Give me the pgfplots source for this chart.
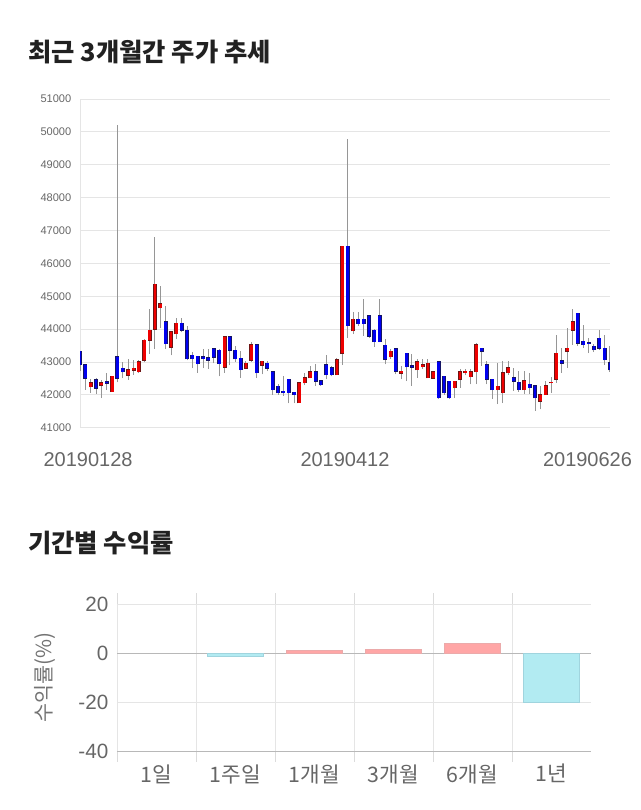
\documentclass[border=0pt]{standalone}
\usepackage{fontspec}
\setmainfont{Liberation Sans}
\newfontfamily\cjk{Noto Sans CJK KR}
\usepackage{pgfplots}
\pgfplotsset{compat=1.18}
\usepackage{pgfplotstable}
\definecolor{upc}{RGB}{238,0,0}
\definecolor{dnc}{RGB}{0,0,238}
\definecolor{updraw}{RGB}{110,20,20}
\definecolor{dndraw}{RGB}{20,20,100}
\definecolor{wick}{RGB}{150,150,150}
\definecolor{posfill}{RGB}{255,166,166}
\definecolor{posdraw}{RGB}{235,170,170}
\definecolor{negfill}{RGB}{178,235,242}
\definecolor{negdraw}{RGB}{160,212,222}
\definecolor{txt}{RGB}{102,102,102}

\pgfplotstableread{
x o h l c
0 43330 43330 42720 42920
1 42910 42910 42160 42510
2 42245 42480 42060 42360
3 42460 42520 42030 42210
4 42300 42440 41900 42360
5 42400 42650 42150 42350
6 42100 42560 42100 42560
7 43160 50200 42380 42500
8 42810 43000 42510 42700
9 42600 43100 42460 42770
10 42750 43060 42610 42810
11 42700 43060 42660 43010
12 43050 43700 42990 43660
13 43660 44600 43250 43960
14 44000 46800 43400 45370
15 44650 45320 44020 44770
16 44230 44700 43400 43560
17 43450 43950 43200 43920
18 43860 44350 43700 44180
19 44180 44350 43900 43960
20 43970 44100 43050 43100
21 43210 43290 42810 43100
22 43170 43170 42670 42950
23 43160 43390 42810 43100
24 43120 43400 42800 43050
25 43410 43420 42960 43150
26 43360 43410 42560 42950
27 42850 43770 42670 43770
28 43770 43770 42900 43360
29 43360 43500 43000 43100
30 43110 43340 42520 42770
31 42810 43020 42780 42960
32 43060 43620 43000 43520
33 43520 43520 42520 42670
34 42900 43040 42620 43020
35 42960 43020 42720 42810
36 42710 42720 42010 42160
37 42260 42320 42000 42060
38 42110 42570 41980 42060
39 42470 42470 41740 42060
40 42080 42100 41740 42010
41 41760 42370 41760 42370
42 42370 42670 42300 42520
43 42520 42880 42500 42710
44 42710 42930 42270 42420
45 42420 42450 42270 42310
46 42920 43220 42470 42610
47 42820 42880 42560 42610
48 42610 43130 42600 43070
49 43265 46520 42920 46520
50 46520 49790 43745 44110
51 43950 44510 43850 44300
52 44300 44510 44100 44170
53 44300 44920 43800 44170
54 44410 44420 43745 43780
55 43970 44000 43470 43620
56 44410 44920 43600 43620
57 43510 43690 42930 43080
58 43160 43390 43100 43320
59 43410 43410 42620 42720
60 42660 42880 42470 42720
61 43260 43260 42420 42860
62 42880 43230 42270 42850
63 42760 43100 42520 43010
64 42860 43100 42800 42920
65 42520 43100 42500 42960
66 42510 42720 42500 42710
67 43010 43010 41880 41910
68 42570 42570 42010 42060
69 42410 42410 41880 41910
70 42220 42410 41900 42410
71 42470 42780 42210 42710
72 42680 42800 42600 42720
73 42550 42780 42320 42710
74 42710 43570 42330 43520
75 43420 43430 42880 43320
76 42910 43040 42320 42470
77 42470 42480 41870 42160
78 42160 42960 41720 42260
79 42060 43030 41750 42670
80 42670 43030 42600 42820
81 42520 42820 42120 42420
82 42380 42720 42100 42160
83 42160 42720 42020 42420
84 42320 42670 42020 42220
85 42270 42280 41510 41910
86 41810 42270 41560 42010
87 42010 42430 42000 42270
88 42365 42530 42070 42385
89 42480 43820 42370 43270
90 43030 43420 42680 42970
91 43320 44020 42830 43420
92 43970 44610 43530 44230
93 44480 44490 43500 43580
94 43630 44130 43420 43530
95 43580 43720 43270 43560
96 43480 43560 43300 43370
97 43720 43970 43370 43420
98 43420 43820 42910 43070
99 42970 43500 42700 42760
}\candles

\begin{document}
\begin{tikzpicture}
\path[use as bounding box] (0,0) rectangle (480pt,607.5pt);

\node[anchor=west, inner sep=0pt, text=black!87, font=\cjk\bfseries\fontsize{19}{22}\selectfont] at (21pt,568.5pt) {최근 3개월간 주가 추세};
\node[anchor=west, inner sep=0pt, text=black!87, font=\cjk\bfseries\fontsize{19}{22}\selectfont] at (21pt,200.25pt) {기간별 수익률};

\begin{axis}[
  at={(60pt,286.7pt)}, anchor=south west,
  scale only axis, width=397.5pt, height=246.5pt,
  xmin=0, xmax=99, ymin=41000, ymax=51000,
  ytick={41000,42000,...,51000},
  ymajorgrids, grid style={draw=black!10, line width=0.7pt},
  axis line style={draw=none},
  major tick length=0pt,
  /pgf/number format/.cd, fixed, set thousands separator={}, assume math mode=true,
  /pgfplots/.cd,
  scaled y ticks=false,
  yticklabel style={font=\fontsize{8.3}{9}\selectfont, text=txt, xshift=-3pt},
  xtick={1.5,49.5,94.8},
  xticklabels={20190128,20190412,20190626},
  xticklabel style={font=\fontsize{15}{17}\selectfont, text=txt, yshift=-15pt},
  extra x ticks={0}, extra x tick labels={},
  extra x tick style={grid=major},
]
% wicks
\addplot[draw=none, mark=none, forget plot,
  error bars/.cd, y dir=plus, y explicit, error mark=none,
  error bar style={line width=0.75pt, draw=wick}]
  table[x=x, y=l, y error plus expr=\thisrow{h}-\thisrow{l}] \candles;
% up bodies: outline then fill
\addplot[draw=none, mark=none, forget plot, restrict y to domain=40000:60000,
  error bars/.cd, y dir=plus, y explicit, error mark=none,
  error bar style={line width=3pt, draw=updraw}]
  table[x=x, y expr={\thisrow{c}>\thisrow{o} ? \thisrow{o}-18 : 0},
        y error plus expr=\thisrow{c}-\thisrow{o}+36] \candles;
\addplot[draw=none, mark=none, forget plot, restrict y to domain=40000:60000,
  error bars/.cd, y dir=plus, y explicit, error mark=none,
  error bar style={line width=2.1pt, draw=upc}]
  table[x=x, y expr={\thisrow{c}>\thisrow{o} ? \thisrow{o} : 0},
        y error plus expr=\thisrow{c}-\thisrow{o}] \candles;
% down bodies
\addplot[draw=none, mark=none, forget plot, restrict y to domain=40000:60000,
  error bars/.cd, y dir=plus, y explicit, error mark=none,
  error bar style={line width=3pt, draw=dndraw}]
  table[x=x, y expr={\thisrow{c}<\thisrow{o} ? \thisrow{c}-18 : 0},
        y error plus expr=\thisrow{o}-\thisrow{c}+36] \candles;
\addplot[draw=none, mark=none, forget plot, restrict y to domain=40000:60000,
  error bars/.cd, y dir=plus, y explicit, error mark=none,
  error bar style={line width=2.1pt, draw=dnc}]
  table[x=x, y expr={\thisrow{c}<\thisrow{o} ? \thisrow{c} : 0},
        y error plus expr=\thisrow{o}-\thisrow{c}] \candles;
\end{axis}

\begin{axis}[
  at={(87.75pt,44.25pt)}, anchor=south west,
  scale only axis, width=355.5pt, height=110.25pt,
  xmin=-0.5, xmax=5.5, ymin=-40, ymax=20,
  ytick={-40,-20,0,20},
  ymajorgrids, grid style={draw=black!10, line width=0.6pt},
  axis line style={draw=none},
  major tick length=0pt,
  /pgf/number format/assume math mode=true,
  yticklabel style={font=\fontsize{15.5}{17}\selectfont, text=txt, xshift=-3pt},
  xtick={0,1,2,3,4,5},
  xticklabels={1일,1주일,1개월,3개월,6개월,1년},
  xticklabel style={font=\cjk\fontsize{16}{18}\selectfont, text=txt, yshift=-6.5pt},
  extra x ticks={-0.5,0.5,1.5,2.5,3.5,4.5}, extra x tick labels={},
  extra x tick style={grid=major, major tick length=8.25pt, tick align=outside,
     tick style={draw=black!14, line width=0.6pt}},
  extra y ticks={-40,0}, extra y tick labels={},
  extra y tick style={grid=major, grid style={draw=black!28, line width=0.6pt}},
  ylabel={\cjk 수익률(\%)},
  ylabel style={at={(axis description cs:-0.152,0.5)}, anchor=center,
     font=\fontsize{15.5}{17}\selectfont, text=black!55},
]
\addplot[ybar, bar width=0.7, bar shift=0, draw=none, fill=none, forget plot] coordinates {(0,0)};
\addplot[ybar, bar width=0.7, bar shift=0, fill=posfill, draw=posdraw, line width=0.6pt, forget plot]
  coordinates {(2,1.0) (3,1.5) (4,4.0)};
\addplot[ybar, bar width=0.7, bar shift=0, fill=negfill, draw=negdraw, line width=0.6pt, forget plot]
  coordinates {(1,-1.2) (5,-20.1)};
\end{axis}
\end{tikzpicture}
\end{document}
